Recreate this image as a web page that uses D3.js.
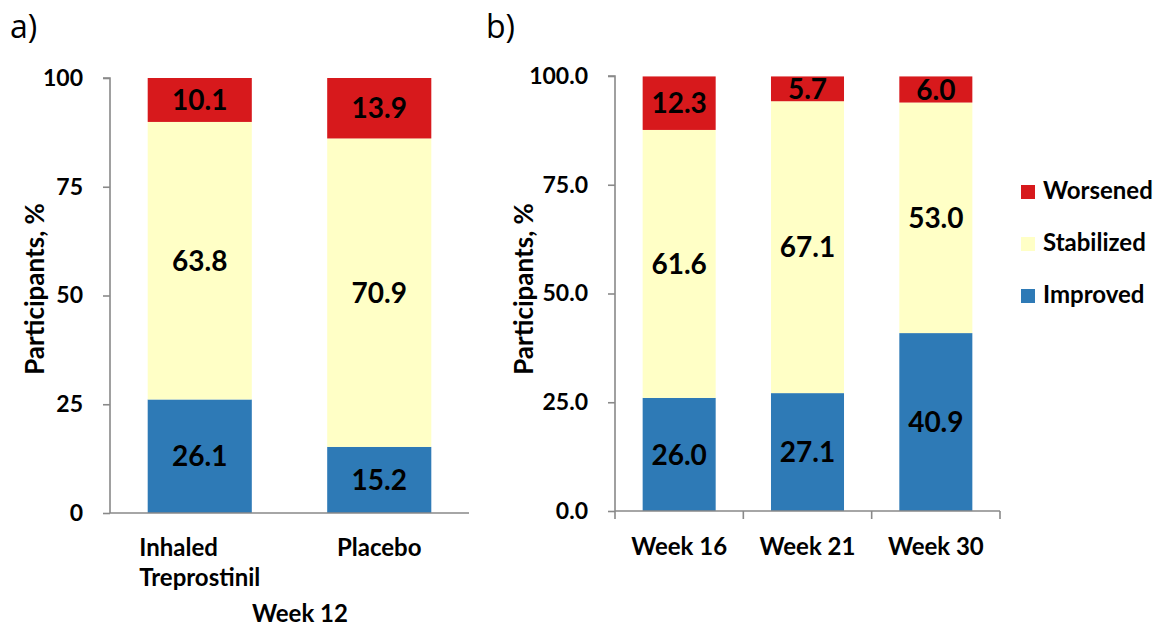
<!DOCTYPE html>
<html>
<head>
<meta charset="utf-8">
<script src="https://cdn.jsdelivr.net/npm/d3@7"></script>
<style>
  html, body { margin: 0; padding: 0; background: #fff; }
  svg { display: block; font-family: Lato, "Open Sans", sans-serif; }
</style>
</head>
<body>
<svg id="chart" width="1159" height="630"></svg>
<script>
// Panel a: week 12, treatment vs placebo
const categoriesA = ["Inhaled Treprostinil", "Placebo"];
const improvedA   = [26.1, 15.2];
const stabilizedA = [63.8, 70.9];
const worsenedA   = [10.1, 13.9];
const ticksA      = [0, 25, 50, 75, 100];

// Panel b: open-label follow-up
const categoriesB = ["Week 16", "Week 21", "Week 30"];
const improvedB   = [26.0, 27.1, 40.9];
const stabilizedB = [61.6, 67.1, 53.0];
const worsenedB   = [12.3, 5.7, 6.0];
const ticksB      = [0, 25, 50, 75, 100];

const seriesKeys  = ["Improved", "Stabilized", "Worsened"];
const colors = { Improved: "#2e7ab6", Stabilized: "#ffffc6", Worsened: "#d7191c" };
const axisColor = "#898989";

const svg = d3.select("#chart");

function buildRows(cats, imp, stab, wor) {
  return cats.map((c, i) => ({ cat: c, Improved: imp[i], Stabilized: stab[i], Worsened: wor[i] }));
}

function drawPanel(opts) {
  const { rows, cats, yRange, xRange, padInner, padOuter, ticks, tickFmt, xTicks } = opts;
  const g = svg.append("g");

  const y = d3.scaleLinear().domain([0, 100]).range(yRange);
  const x = d3.scaleBand().domain(cats).range(xRange)
    .paddingInner(padInner).paddingOuter(padOuter);

  const stacked = d3.stack().keys(seriesKeys)(rows);

  // stacked bars
  const layers = g.selectAll("g.layer").data(stacked).join("g")
    .attr("class", "layer").attr("fill", d => colors[d.key]);
  layers.selectAll("rect").data(d => d).join("rect")
    .attr("x", d => x(d.data.cat))
    .attr("width", x.bandwidth())
    .attr("y", d => y(d[1]))
    .attr("height", d => y(d[0]) - y(d[1]));

  // value labels
  layers.each(function (layer) {
    d3.select(this).selectAll("text").data(layer).join("text")
      .attr("x", d => x(d.data.cat) + x.bandwidth() / 2)
      .attr("y", d => (y(d[0]) + y(d[1])) / 2)
      .attr("dy", "0.36em")
      .attr("text-anchor", "middle")
      .attr("fill", "#000")
      .attr("font-weight", 700)
      .attr("font-size", 28)
      .text(d => d.data[layer.key].toFixed(1));
  });

  // y axis
  const yAxis = g.append("g")
    .attr("transform", `translate(${xRange[0]},0)`)
    .call(d3.axisLeft(y).tickValues(ticks).tickFormat(tickFmt).tickSize(7).tickPadding(20));
  yAxis.select(".domain").attr("stroke", axisColor).attr("stroke-width", 1.6)
    .attr("d", `M-7,${yRange[1]}H0V${yRange[0]}`);
  yAxis.selectAll(".tick line").attr("stroke", axisColor).attr("stroke-width", 1.6);
  yAxis.selectAll(".tick text").attr("fill", "#000").attr("font-size", 23)
    .attr("font-weight", 700).attr("font-family", "Lato, sans-serif");

  // x axis line
  g.append("line")
    .attr("x1", xRange[0]).attr("x2", xRange[1])
    .attr("y1", yRange[0]).attr("y2", yRange[0])
    .attr("stroke", axisColor).attr("stroke-width", 1.6);

  if (xTicks) {
    const bounds = d3.range(cats.length + 1).map(i => xRange[0] + i * (xRange[1] - xRange[0]) / cats.length);
    g.selectAll("line.xtick").data(bounds).join("line")
      .attr("class", "xtick")
      .attr("x1", d => d).attr("x2", d => d)
      .attr("y1", yRange[0]).attr("y2", yRange[0] + 8)
      .attr("stroke", axisColor).attr("stroke-width", 1.6);
  }

  return { g, x, y };
}

// ---- Panel a ----
const pa = drawPanel({
  rows: buildRows(categoriesA, improvedA, stabilizedA, worsenedA),
  cats: categoriesA,
  yRange: [513, 78],
  xRange: [110, 469],
  padInner: 0.42, padOuter: 0.21,
  ticks: ticksA, tickFmt: d3.format("d"), xTicks: false
});

// category labels for panel a (multi-line, left aligned within a centred block)
categoriesA.forEach(cat => {
  const words = cat.split(" ");
  const cx = pa.x(cat) + pa.x.bandwidth() / 2;
  const t = pa.g.append("text")
    .attr("font-size", 24).attr("font-weight", 700).attr("fill", "#000");
  words.forEach((w, i) => {
    t.append("tspan").attr("x", 0).attr("y", 556 + i * 30).text(w);
  });
  const wdt = t.node().getBBox().width;
  t.selectAll("tspan").attr("x", cx - wdt / 2);
});

pa.g.append("text")
  .attr("x", 300).attr("y", 622)
  .attr("text-anchor", "middle")
  .attr("font-size", 24).attr("font-weight", 700)
  .text("Week 12");

pa.g.append("text")
  .attr("transform", "translate(44,289) rotate(-90)")
  .attr("text-anchor", "middle")
  .attr("font-size", 26).attr("font-weight", 700)
  .text("Participants, %");

svg.append("text").attr("x", 10).attr("y", 38)
  .attr("font-size", 32).attr("font-family", "'Open Sans', sans-serif").text("a)");

// ---- Panel b ----
const pb = drawPanel({
  rows: buildRows(categoriesB, improvedB, stabilizedB, worsenedB),
  cats: categoriesB,
  yRange: [511, 76],
  xRange: [615, 1000],
  padInner: 0.431, padOuter: 0.2155,
  ticks: ticksB, tickFmt: d3.format(".1f"), xTicks: true
});

categoriesB.forEach(cat => {
  pb.g.append("text")
    .attr("x", pb.x(cat) + pb.x.bandwidth() / 2)
    .attr("y", 555)
    .attr("text-anchor", "middle")
    .attr("font-size", 24).attr("font-weight", 700)
    .text(cat);
});

pb.g.append("text")
  .attr("transform", "translate(533,289) rotate(-90)")
  .attr("text-anchor", "middle")
  .attr("font-size", 26).attr("font-weight", 700)
  .text("Participants, %");

svg.append("text").attr("x", 486).attr("y", 38)
  .attr("font-size", 32).attr("font-family", "'Open Sans', sans-serif").text("b)");

// ---- Legend ----
const legendKeys = ["Worsened", "Stabilized", "Improved"];
const legend = svg.append("g").attr("transform", "translate(1021,185)");
const items = legend.selectAll("g").data(legendKeys).join("g")
  .attr("transform", (d, i) => `translate(0,${i * 52})`);
items.append("rect").attr("width", 14).attr("height", 14).attr("fill", d => colors[d]);
items.append("text").attr("x", 22).attr("y", 14)
  .attr("font-size", 24).attr("font-weight", 700).text(d => d);
</script>
</body>
</html>
